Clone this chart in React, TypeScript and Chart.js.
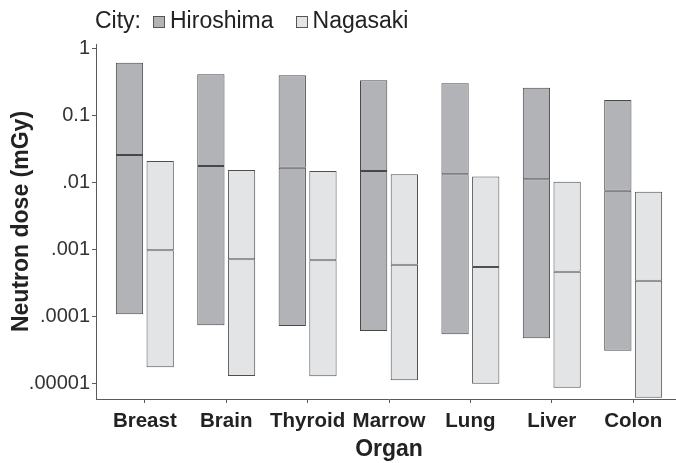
import React, { useEffect, useRef } from 'react';
import { Chart, registerables } from 'chart.js';

Chart.register(...registerables);

// ---- data ----
const organs = ['Breast', 'Brain', 'Thyroid', 'Marrow', 'Lung', 'Liver', 'Colon'];
const cities = ['Hiroshima', 'Nagasaki'];

const hiroshimaLow = [1.07e-4, 7.34e-5, 7.16e-5, 6.04e-5, 5.39e-5, 4.7e-5, 3.07e-5];
const hiroshimaMedian = [0.0255, 0.0175, 0.0165, 0.0147, 0.0132, 0.0111, 0.0075];
const hiroshimaHigh = [0.61, 0.409, 0.397, 0.333, 0.3, 0.258, 0.169];

const nagasakiLow = [1.73e-5, 1.29e-5, 1.27e-5, 1.11e-5, 9.86e-6, 8.59e-6, 6.1e-6];
const nagasakiMedian = [9.66e-4, 7.1e-4, 6.85e-4, 5.89e-4, 5.44e-4, 4.63e-4, 3.4e-4];
const nagasakiHigh = [0.0208, 0.0153, 0.0147, 0.0132, 0.0122, 0.0102, 0.00724];

const yTickValues = [1e-5, 1e-4, 1e-3, 1e-2, 1e-1, 1];
const yTickLabels = ['.00001', '.0001', '.001', '.01', '0.1', '1'];

// ---- styles ----
const FONT = '"Liberation Sans", Arial, Helvetica, sans-serif';
const cityFills = ['#b2b3b7', '#e3e4e6'];
const cityBorders = ['#474747', '#4f4f4f'];
const TEXT = '#222222';
const AXIS = '#5a5a5a';

const series = [
  { low: hiroshimaLow, med: hiroshimaMedian, high: hiroshimaHigh },
  { low: nagasakiLow, med: nagasakiMedian, high: nagasakiHigh },
];

function buildDatasets() {
  const ds: any[] = [];
  series.forEach((s, c) => {
    const common = {
      stack: cities[c],
      backgroundColor: cityFills[c],
      borderColor: cityBorders[c],
      borderWidth: 1,
      borderSkipped: false,
      categoryPercentage: 0.754,
      barPercentage: 0.889,
    };
    ds.push({
      ...common,
      label: cities[c],
      data: organs.map((_, i) => ({ x: i + 1, y: [s.low[i], s.med[i]] })),
    });
    ds.push({
      ...common,
      label: cities[c] + ' upper',
      data: organs.map((_, i) => ({ x: i + 1, y: [s.med[i], s.high[i]] })),
    });
  });
  return ds;
}

const cityLegend = {
  id: 'cityLegend',
  afterDraw(chart: any) {
    const ctx = chart.ctx as CanvasRenderingContext2D;
    const y = 22;
    let x = chart.chartArea.left - 1;
    ctx.save();
    ctx.font = `23px ${FONT}`;
    ctx.textBaseline = 'middle';
    ctx.textAlign = 'left';
    ctx.fillStyle = TEXT;
    ctx.fillText('City:', x, y);
    x += ctx.measureText('City:').width + 12;
    cities.forEach((name, i) => {
      const bx = Math.round(x) + 0.5;
      const by = Math.round(y - 6) + 0.5;
      ctx.fillStyle = cityFills[i];
      ctx.fillRect(bx, by, 11, 11);
      ctx.strokeStyle = '#555';
      ctx.lineWidth = 1;
      ctx.strokeRect(bx, by, 11, 11);
      x += 12 + 5;
      ctx.fillStyle = TEXT;
      ctx.fillText(name, x, y);
      x += ctx.measureText(name).width + 22;
    });
    ctx.restore();
  },
};

export default function App() {
  const ref = useRef<HTMLCanvasElement>(null);

  useEffect(() => {
    if (!ref.current) return;
    Chart.defaults.font.family = FONT;
    const chart = new Chart(ref.current, {
      type: 'bar',
      data: { datasets: buildDatasets() },
      plugins: [cityLegend],
      options: {
        responsive: false,
        animation: false,
        devicePixelRatio: 1,
        layout: { padding: { left: 8, top: 44, right: 0, bottom: 0 } },
        plugins: {
          legend: { display: false },
          tooltip: { enabled: false },
        },
        scales: {
          x: {
            type: 'linear',
            min: 0.4,
            max: 7.6,
            offset: false,
            afterBuildTicks: (s: any) => {
              s.ticks = organs.map((_, i) => ({ value: i + 1 }));
            },
            afterFit: (s: any) => {
              s.height = 64;
            },
            grid: {
              display: true,
              drawOnChartArea: false,
              drawTicks: true,
              tickLength: 4,
              color: AXIS,
              offset: false,
            },
            border: { display: true, color: AXIS, width: 1 },
            ticks: {
              autoSkip: false,
              maxRotation: 0,
              minRotation: 0,
              padding: 6,
              color: TEXT,
              font: { family: FONT, size: 20.5, weight: 'bold' },
              callback: (v: any) => organs[Math.round(Number(v)) - 1] ?? '',
            },
            title: {
              display: true,
              text: 'Organ',
              color: TEXT,
              padding: 0,
              font: { family: FONT, size: 23, weight: 'bold' },
            },
          },
          y: {
            type: 'logarithmic',
            min: 5.83e-6,
            max: 1.159,
            stacked: false,
            afterBuildTicks: (s: any) => {
              s.ticks = yTickValues.map((v) => ({ value: v }));
            },
            afterFit: (s: any) => {
              s.width = 88;
            },
            grid: {
              display: true,
              drawOnChartArea: false,
              drawTicks: true,
              tickLength: 4,
              color: AXIS,
            },
            border: { display: true, color: AXIS, width: 1 },
            ticks: {
              padding: 2,
              color: '#333',
              font: { family: FONT, size: 20 },
              callback: (v: any) => {
                const idx = yTickValues.findIndex((t) => Math.abs(Math.log10(t) - Math.log10(Number(v))) < 1e-6);
                return idx >= 0 ? yTickLabels[idx] : '';
              },
            },
            title: {
              display: true,
              text: 'Neutron dose (mGy)',
              color: TEXT,
              padding: 0,
              font: { family: FONT, size: 23, weight: 'bold' },
            },
          },
        },
      } as any,
    });
    return () => chart.destroy();
  }, []);

  return (
    <div
      style={{
        position: 'fixed',
        left: 0,
        top: 0,
        width: 676,
        height: 463,
        overflow: 'hidden',
        background: '#ffffff',
      }}
    >
      <canvas ref={ref} width={682} height={463} style={{ display: 'block' }} />
    </div>
  );
}
